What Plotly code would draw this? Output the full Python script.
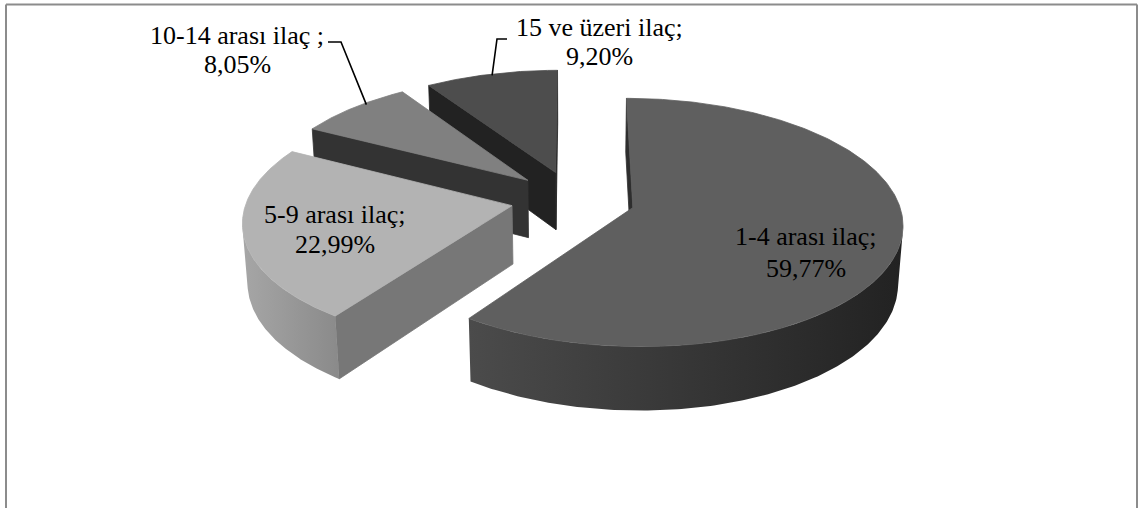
import numpy as np
import plotly.graph_objects as go

# ---------------- data ----------------
categories = ["1-4 arası ilaç", "5-9 arası ilaç", "10-14 arası ilaç ", "15 ve üzeri ilaç"]
values = [59.77, 22.99, 8.05, 9.20]
value_labels = ["59,77%", "22,99%", "8,05%", "9,20%"]

# ---------------- styles ----------------
top_colors = ["#5f5f5f", "#b3b3b3", "#808080", "#4d4d4d"]
side_grads = [("#4b4b4b", "#222222"), ("#a6a6a6", "#8a8a8a"),
              ("#6a6a6a", "#555555"), ("#3a3a3a", "#2a2a2a")]
cut_colors = ["#2e2e2e", "#777777", "#333333", "#222222"]
FONT = "Liberation Serif"
FSIZE = 26

# label placement (pixel layout): (x, line1 middle y, line2 middle y)
label_pos = [(806, 236, 268), (335, 214, 244), (237, 35, 64), (599, 27, 56)]
# leader lines (only for outside labels): stub start x, stub end x, stub y, rim angle shift
leader_stub = {2: (328, 341, 42, 0.06), 3: (507, 497, 39, 0.0)}

# ---------------- 3-D projection params ----------------
CX, CY = 573, 199
F = 265
ELEV = np.radians(27)
DIST = 7.5
H = 0.25
EXPLODE = 0.235
W, HGT = 1138, 508


def project(X, Y, Z):
    X = np.asarray(X, float); Y = np.asarray(Y, float); Z = np.asarray(Z, float)
    depth = DIST + Y * np.cos(ELEV) - Z * np.sin(ELEV)
    up = Y * np.sin(ELEV) + Z * np.cos(ELEV)
    k = DIST / depth
    return CX + F * X * k, CY - F * up * k


total = sum(values)
bounds = np.concatenate([[0], np.cumsum(values) / total * 360.0])
slices = []
for i in range(len(values)):
    a0, a1 = np.radians(bounds[i]), np.radians(bounds[i + 1])
    m = (a0 + a1) / 2
    ox, oy = EXPLODE * np.sin(m), EXPLODE * np.cos(m)
    slices.append(dict(i=i, a0=a0, a1=a1, m=m, ox=ox, oy=oy))

fig = go.Figure()


def add_poly(xs, ys, color=None, grad=None, lw=0.8):
    kw = dict(x=list(xs) + [xs[0]], y=list(ys) + [ys[0]], mode="lines", fill="toself",
              hoverinfo="skip", showlegend=False)
    if grad is not None:
        kw["fillgradient"] = dict(type="horizontal", colorscale=[[0, grad[0]], [1, grad[1]]])
        kw["line"] = dict(width=0, color=grad[1])
    else:
        kw["fillcolor"] = color
        kw["line"] = dict(width=lw, color=color)
    fig.add_trace(go.Scatter(**kw))


cam = np.array([0.0, -DIST * np.cos(ELEV), DIST * np.sin(ELEV)])

# draw far slices first
for s in sorted(slices, key=lambda s: -s["oy"]):
    i, a0, a1, ox, oy = s["i"], s["a0"], s["a1"], s["ox"], s["oy"]
    th = np.linspace(a0, a1, 300)
    # cut faces
    for ang, sign in ((a0, -1), (a1, 1)):
        n = np.array([sign * np.cos(ang), -sign * np.sin(ang), 0.0])
        p = np.array([ox, oy, 0.0])
        if np.dot(n, p - cam) < 0:
            X = [ox, ox + np.sin(ang), ox + np.sin(ang), ox]
            Y = [oy, oy + np.cos(ang), oy + np.cos(ang), oy]
            Z = [0, 0, -H, -H]
            px, py = project(X, Y, Z)
            add_poly(px, py, color=cut_colors[i])
    # outer side (visible part)
    vis = 1 + ox * np.sin(th) + oy * np.cos(th) + DIST * np.cos(ELEV) * np.cos(th) < 0
    if vis.any():
        tv = th[vis]
        X = np.concatenate([ox + np.sin(tv), ox + np.sin(tv[::-1])])
        Y = np.concatenate([oy + np.cos(tv), oy + np.cos(tv[::-1])])
        Z = np.concatenate([np.zeros(len(tv)), -H * np.ones(len(tv))])
        px, py = project(X, Y, Z)
        add_poly(px, py, grad=side_grads[i])
    # top face
    X = np.concatenate([[ox], ox + np.sin(th)])
    Y = np.concatenate([[oy], oy + np.cos(th)])
    px, py = project(X, Y, np.zeros(len(X)))
    add_poly(px, py, color=top_colors[i])

# leader lines (end on the slice rim)
for i, (xs0, xs1, ys, shift) in leader_stub.items():
    s = slices[i]
    ang = s["m"] + shift
    ex, ey = project(s["ox"] + 0.985 * np.sin(ang), s["oy"] + 0.985 * np.cos(ang), 0.0)
    fig.add_trace(go.Scatter(x=[xs0, xs1, float(ex)], y=[ys, ys, float(ey)], mode="lines",
                             line=dict(color="#000000", width=1.6), hoverinfo="skip",
                             showlegend=False))

# labels
for i, (lx, y1, y2) in enumerate(label_pos):
    for txt, yy in ((categories[i] + ";", y1), (value_labels[i], y2)):
        fig.add_annotation(x=lx, y=yy, text=txt, showarrow=False, xanchor="center",
                           yanchor="middle", font=dict(family=FONT, size=FSIZE, color="#000000"))

# chart border (top, left, right)
for x0, y0, x1, y1 in ((6, 4.5, 1137, 4.5), (6, 4.5, 6, 520), (1137, 4.5, 1137, 520)):
    fig.add_shape(type="line", x0=x0, y0=y0, x1=x1, y1=y1,
                  line=dict(color="#8c8c8c", width=2))

fig.update_layout(
    width=W, height=HGT, margin=dict(l=0, r=0, t=0, b=0),
    paper_bgcolor="white", plot_bgcolor="white",
    xaxis=dict(range=[0, W], visible=False, fixedrange=True),
    yaxis=dict(range=[HGT, 0], visible=False, fixedrange=True),
)
fig.write_html("out.html")
